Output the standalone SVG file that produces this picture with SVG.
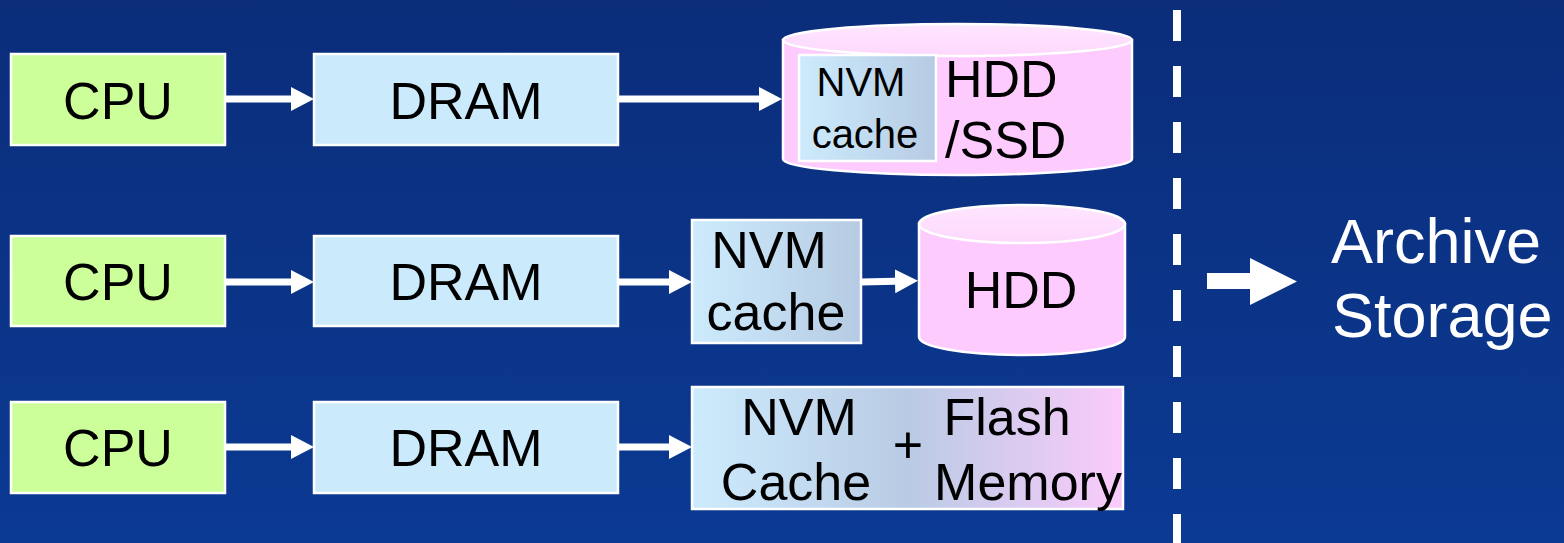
<svg xmlns="http://www.w3.org/2000/svg" width="1564" height="543" viewBox="0 0 1564 543">
<defs>
<linearGradient id="bg" x1="0" y1="0" x2="0" y2="1">
<stop offset="0" stop-color="#0b2d7a"/>
<stop offset="1" stop-color="#0b3a93"/>
</linearGradient>
<linearGradient id="nvm" x1="0" y1="0" x2="1" y2="0">
<stop offset="0" stop-color="#cdebfd"/>
<stop offset="1" stop-color="#b6cbe3"/>
</linearGradient>
<linearGradient id="combo" x1="0" y1="0" x2="1" y2="0">
<stop offset="0" stop-color="#cdebfd"/>
<stop offset="0.5" stop-color="#b9cbe4"/>
<stop offset="1" stop-color="#fbcbfb"/>
</linearGradient>
<linearGradient id="cyltop" x1="0" y1="0" x2="0" y2="1">
<stop offset="0" stop-color="#fee6fe"/>
<stop offset="1" stop-color="#fdd8fd"/>
</linearGradient>
<marker id="ah" viewBox="0 0 23 24" refX="11" refY="12" markerWidth="23" markerHeight="24" markerUnits="userSpaceOnUse" orient="auto">
<path d="M0,0 L23,12 L0,24 Z" fill="#ffffff"/>
</marker>
<style>
.box{stroke:#ffffff;stroke-width:2.5}
.cpu{fill:#ccfe99}
.dram{fill:#cbebfd}
.cyl{fill:#fdcbfd;stroke:#ffffff;stroke-width:2.5}
.t{font-family:"Liberation Sans",Arial,sans-serif;font-size:52px;fill:#000000;text-anchor:middle}
.ts{font-family:"Liberation Sans",Arial,sans-serif;font-size:40px;fill:#000000;text-anchor:middle}
.tw{font-family:"Liberation Sans",Arial,sans-serif;font-size:63px;fill:#ffffff}
.arr{stroke:#ffffff;stroke-width:7;fill:none}
</style>
</defs>
<rect x="0" y="0" width="1564" height="543" fill="url(#bg)"/>

<g id="cpu1"><rect class="box cpu" x="11" y="54" width="214" height="91"/><text class="t" x="118" y="119">CPU</text></g>
<g id="dram1"><rect class="box dram" x="314" y="54" width="304" height="91"/><text class="t" x="466" y="119">DRAM</text></g>
<g id="hddssd1">
<path class="cyl" d="M783,40 L783,159 A174.5,16 0 0 0 1132,159 L1132,40 Z"/>
<ellipse cx="957.5" cy="40" rx="174.5" ry="16" fill="url(#cyltop)" stroke="#ffffff" stroke-width="2.5"/>
<rect x="799" y="55" width="137" height="106" fill="url(#nvm)" stroke="#ffffff" stroke-width="2.5"/>
<text class="ts" x="861" y="96">NVM</text>
<text class="ts" x="865" y="148">cache</text>
<text class="t" x="945" y="97" style="text-anchor:start">HDD</text>
<text class="t" x="945" y="158" style="text-anchor:start">/SSD</text>
</g>

<g id="cpu2"><rect class="box cpu" x="11" y="236" width="214" height="90"/><text class="t" x="118" y="300">CPU</text></g>
<g id="dram2"><rect class="box dram" x="314" y="236" width="304" height="90"/><text class="t" x="466" y="300">DRAM</text></g>
<g id="nvm2"><rect x="692" y="220" width="169" height="123" fill="url(#nvm)" stroke="#ffffff" stroke-width="2.5"/>
<text class="t" x="769" y="268">NVM</text>
<text class="t" x="776" y="330">cache</text></g>
<g id="hdd2">
<path class="cyl" d="M919,224 L919,337 A103,18 0 0 0 1125,337 L1125,224 Z"/>
<ellipse cx="1022" cy="224" rx="103" ry="19" fill="url(#cyltop)" stroke="#ffffff" stroke-width="2.5"/>
<text class="t" x="1021" y="308">HDD</text>
</g>

<g id="cpu3"><rect class="box cpu" x="11" y="402" width="214" height="91"/><text class="t" x="118" y="466">CPU</text></g>
<g id="dram3"><rect class="box dram" x="314" y="402" width="304" height="91"/><text class="t" x="466" y="466">DRAM</text></g>
<g id="combo3"><rect x="692" y="387" width="431" height="122" fill="url(#combo)" stroke="#ffffff" stroke-width="2.5"/>
<text class="t" x="799" y="435">NVM</text>
<text class="t" x="796" y="500">Cache</text>
<text class="t" x="908" y="463">+</text>
<text class="t" x="1007" y="435">Flash</text>
<text class="t" x="1028" y="500">Memory</text></g>

<g id="archive">
<text class="tw" x="1331" y="263">Archive</text>
<text class="tw" x="1332" y="337">Storage</text>
</g>

<g id="connectors">
<line class="arr" x1="225" y1="99" x2="302" y2="99" marker-end="url(#ah)"/>
<line class="arr" x1="618" y1="99" x2="770" y2="99" marker-end="url(#ah)"/>
<line class="arr" x1="225" y1="282" x2="302" y2="282" marker-end="url(#ah)"/>
<line class="arr" x1="618" y1="282" x2="680" y2="282" marker-end="url(#ah)"/>
<line class="arr" x1="861" y1="282" x2="906" y2="281" marker-end="url(#ah)"/>
<line class="arr" x1="225" y1="447" x2="302" y2="447" marker-end="url(#ah)"/>
<line class="arr" x1="618" y1="447" x2="680" y2="447" marker-end="url(#ah)"/>
<line x1="1177" y1="10" x2="1177" y2="543" stroke="#ffffff" stroke-width="8" stroke-dasharray="31 25"/>
<path d="M1207,273 L1250,273 L1250,258 L1297,281.5 L1250,305 L1250,289 L1207,289 Z" fill="#ffffff"/>
</g>
</svg>
